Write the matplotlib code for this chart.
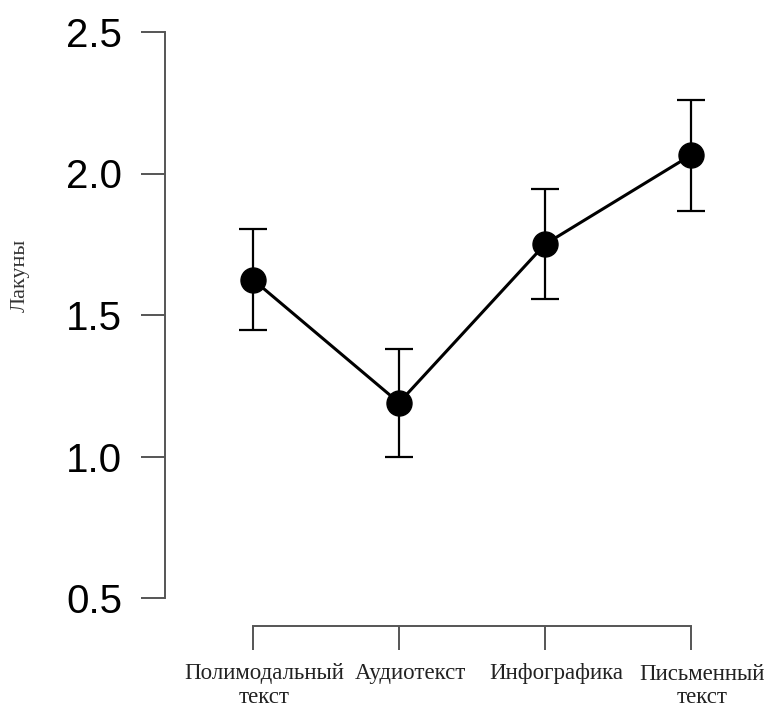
import matplotlib
matplotlib.use("Agg")
import matplotlib.pyplot as plt
from matplotlib.transforms import ScaledTranslation

categories = ["Полимодальный\nтекст", "Аудиотекст", "Инфографика", "Письменный\nтекст"]
means = [1.625, 1.19, 1.75, 2.065]
ci_lower = [1.447, 0.997, 1.557, 1.868]
ci_upper = [1.804, 1.380, 1.945, 2.260]
y_ticks = [0.5, 1.0, 1.5, 2.0, 2.5]
y_label = "Лакуны"

W, H = 765, 711
fig = plt.figure(figsize=(W / 100, H / 100), dpi=100)
left, right, bottom, top = 165, 745, 626, 20
ax = fig.add_axes([left / W, (H - bottom) / H, (right - left) / W, (bottom - top) / H])

px_per_x = 146.0
x0_px = 253
xlim = ((left - x0_px) / px_per_x, (right - x0_px) / px_per_x)
px_per_y = 283.0
ylim = (2.5 - (bottom - 32) / px_per_y, 2.5 + (32 - top) / px_per_y)
ax.set_xlim(*xlim)
ax.set_ylim(*ylim)

xs = list(range(len(categories)))
yerr = [[m - l for m, l in zip(means, ci_lower)], [u - m for m, u in zip(means, ci_upper)]]
ax.errorbar(xs, means, yerr=yerr, fmt="none", ecolor="black", elinewidth=1.6,
            capsize=10, capthick=1.6, zorder=2)
ax.plot(xs, means, color="black", linewidth=2.2, marker="o", markersize=18,
        markerfacecolor="black", markeredgecolor="black", zorder=3)

for s in ["top", "right"]:
    ax.spines[s].set_visible(False)
spine_col = "#555555"
ax.spines["left"].set_bounds(0.5, 2.5)
ax.spines["bottom"].set_bounds(0, 3)
for s in ["left", "bottom"]:
    ax.spines[s].set_color(spine_col)
    ax.spines[s].set_linewidth(1.4)

ax.set_yticks(y_ticks)
ax.set_yticklabels([f"{v:.1f}" for v in y_ticks], fontsize=29, family="Liberation Sans")
ax.set_xticks(xs)
ax.set_xticklabels(categories, fontsize=16.5, family="Liberation Serif", linespacing=1.15,
                   color="#222222")
ax.tick_params(axis="y", length=17, width=1.4, color=spine_col, pad=14)
ax.tick_params(axis="x", length=17, width=1.4, color=spine_col, pad=10)
shift = ScaledTranslation(11 / 100, 0, fig.dpi_scale_trans)
for lab in ax.get_xticklabels():
    lab.set_transform(lab.get_transform() + shift)

fig.text(20 / W, 1 - 275 / H, y_label, rotation=90, ha="center", va="center",
         fontsize=16, family="Liberation Serif", color="#333333")

fig.savefig("out.png", dpi=100)
